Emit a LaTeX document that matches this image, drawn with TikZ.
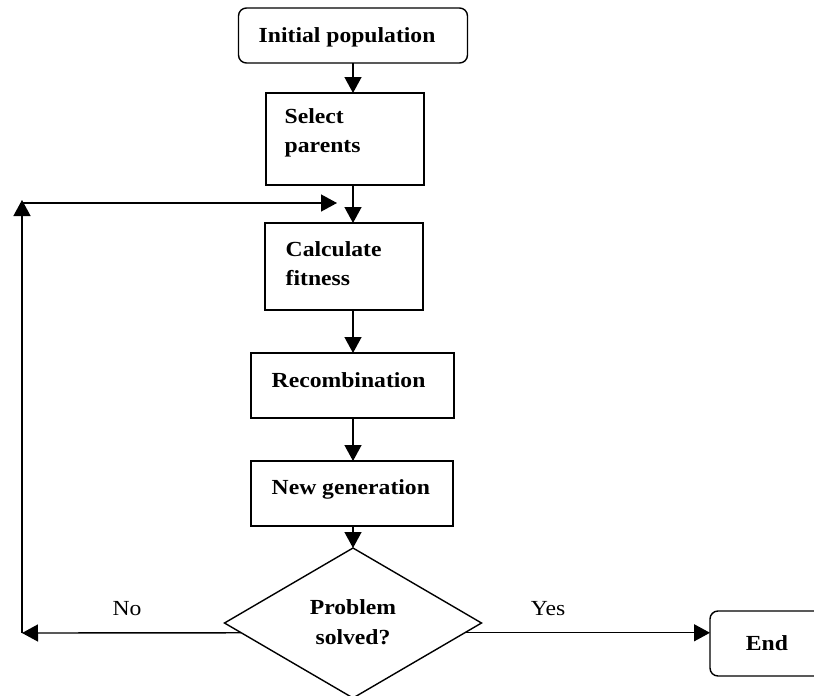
\documentclass[tikz,border=0pt]{standalone}
\usepackage{fontspec}
\setmainfont{Liberation Serif}[FakeStretch=1.1]
\usetikzlibrary{arrows.meta,shapes.geometric}
\begin{document}
\begin{tikzpicture}[x=1pt,y=-1pt,
  line width=1.4pt,
  box/.style={draw,rectangle,inner sep=0pt,outer sep=0pt},
  rbox/.style={box,rounded corners=8pt},
  lbl/.style={font=\fontsize{21.5}{26}\selectfont\bfseries,inner sep=0pt,anchor=base west},
  clbl/.style={font=\fontsize{21.5}{26}\selectfont\bfseries,inner sep=0pt},
  plbl/.style={font=\fontsize{21.5}{26}\selectfont,inner sep=0pt},
  arr/.style={-{Triangle[length=16pt,width=17pt]}},
]
\useasboundingbox (0,0) rectangle (814,696);
\clip (0,0) rectangle (814,696);

% boxes
\node[rbox,minimum width=229pt,minimum height=55pt] (ip) at (353,35.5) {};
\node[box,minimum width=158pt,minimum height=92pt] (sp) at (345,139) {};
\node[box,minimum width=158pt,minimum height=87pt] (cf) at (344,266.5) {};
\node[box,minimum width=203pt,minimum height=65pt] (rc) at (352.5,385.5) {};
\node[box,minimum width=202pt,minimum height=65pt] (ng) at (352,493.5) {};
\node[draw,diamond,minimum width=257pt,minimum height=150pt,inner sep=0pt,outer sep=0pt] (ps) at (353,623) {};
\node[rbox,minimum width=114pt,minimum height=65pt] (en) at (767,643.5) {};

% texts
\node[lbl] (tip) at (258,42) {Initial population};
\node[lbl] (tsp1) at (284,123) {Select};
\node[lbl] (tsp2) at (284,152) {parents};
\node[lbl] (tcf1) at (285,256) {Calculate};
\node[lbl] (tcf2) at (285,285) {fitness};
\node[lbl] (trc) at (271,387) {Recombination};
\node[lbl] (tng) at (271,494) {New generation};
\node[clbl] (tps1) at (353,607) {Problem};
\node[clbl] (tps2) at (353,637) {solved?};
\node[clbl] (ten) at (767,643) {End};
\node[plbl] (tno) at (127,609) {No};
\node[plbl] (tyes) at (548,609) {Yes};

% helper coordinates
\coordinate (ax) at (353,0);
\coordinate (bl) at (22,633);
\coordinate (tl) at (22,200);
\coordinate (hl) at (22,203);
\coordinate (fb) at (337,203);

% connectors
\draw[arr] (ip.south -| ax) -- (sp.north -| ax);
\draw[arr] (sp.south -| ax) -- (cf.north -| ax);
\draw[arr] (cf.south -| ax) -- (rc.north -| ax);
\draw[arr] (rc.south -| ax) -- (ng.north -| ax);
\draw[arr] (ng.south -| ax) -- (ps.north);
\draw[arr] (ps.-5.2) -- (ps.-5.2 -| en.west);
\draw[arr] (ps.185.2) -- (bl);
\draw[arr] (bl) -- (tl);
\draw[arr] (hl) -- (fb);
\end{tikzpicture}
\end{document}
